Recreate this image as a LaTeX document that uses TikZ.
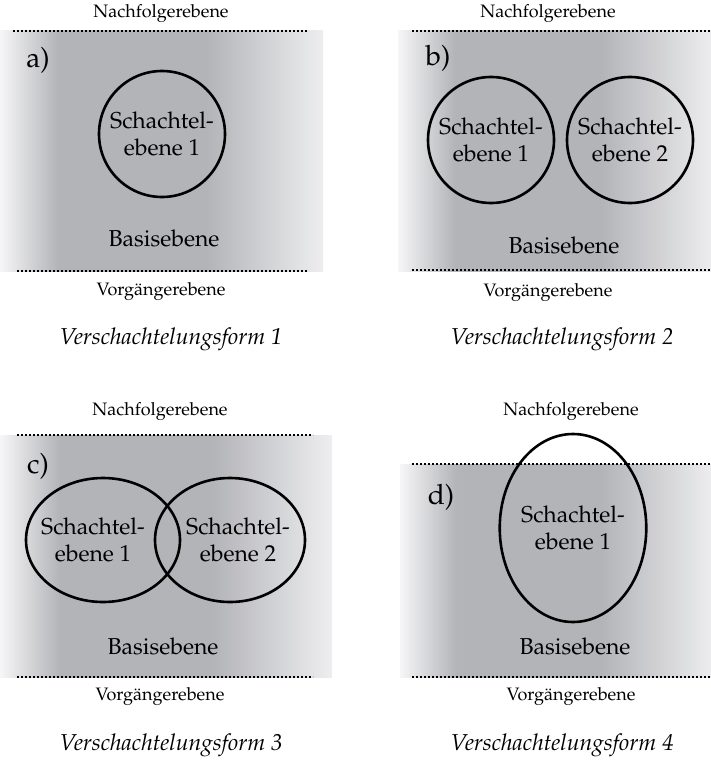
\documentclass[tikz,border=0pt]{standalone}
\usepackage[T1]{fontenc}
\usepackage{mathpazo}
\usetikzlibrary{shapes.geometric}

\definecolor{midgray}{RGB}{179,180,184}
\definecolor{fadeL}{RGB}{246,246,247}
\definecolor{fadeR}{RGB}{238,238,240}
% TikZ fits the band 25bp--75bp of a shading onto the filled path
\pgfdeclarehorizontalshading{panelfade}{100bp}{%
  color(0bp)=(fadeL); color(25bp)=(fadeL); color(34bp)=(midgray);
  color(57bp)=(midgray); color(75bp)=(fadeR); color(100bp)=(fadeR)}

\tikzset{
  panel/.style={shading=panelfade, draw=none},
  levelline/.style={line width=2pt, dash pattern=on 2pt off 2pt},
  nest/.style={draw, line width=2.6pt, inner sep=0pt, align=center,
    font=\fontsize{23}{27}\selectfont},
  nesttext/.style={align=center, inner sep=0pt, font=\fontsize{23}{27}\selectfont},
  small/.style={font=\fontsize{18}{20}\selectfont},
  base/.style={font=\fontsize{23}{27}\selectfont},
  tag/.style={font=\fontsize{28}{30}\selectfont},
  caption/.style={font=\fontsize{23}{27}\selectfont\itshape},
}

\begin{document}
\begin{tikzpicture}[x=1pt,y=-1pt]
\useasboundingbox (0,0) rectangle (710,762);

% ---- a) one nesting level inside the base level
\shade[panel] (0,31) rectangle (323,271);
\coordinate (a1) at (13,31);  \coordinate (a2) at (308,31);
\coordinate (a3) at (17,271); \coordinate (a4) at (308,271);
\draw[levelline] (a1) -- (a2);
\draw[levelline] (a3) -- (a4);
\node[small] (aN) at (161,14) {Nachfolgerebene};
\node[small] (aV) at (161,292) {Vorg\"angerebene};
\node[tag] (aT) at (38,60) {a)};
\node[nest, circle, minimum size=126pt] (aS) at (162,134) {Schachtel-\\ebene 1};
\node[base] (aB) at (164,238) {Basisebene};
\node[caption] (aC) at (171,339) {Verschachtelungsform 1};

% ---- b) two separate nesting levels
\shade[panel] (398,31) rectangle (714,271);
\coordinate (b1) at (412,31);  \coordinate (b2) at (710,31);
\coordinate (b3) at (412,270); \coordinate (b4) at (710,270);
\draw[levelline] (b1) -- (b2);
\draw[levelline] (b3) -- (b4);
\node[small] (bN) at (548,14) {Nachfolgerebene};
\node[small] (bV) at (548,293) {Vorg\"angerebene};
\node[tag] (bT) at (438,58) {b)};
\node[nest, circle, minimum size=126pt] (bS1) at (491,140) {Schachtel-\\ebene 1};
\node[nest, circle, minimum size=126pt] (bS2) at (630,140) {Schachtel-\\ebene 2};
\node[base] (bB) at (564,245) {Basisebene};
\node[caption] (bC) at (562,339) {Verschachtelungsform 2};

% ---- c) two overlapping nesting levels
\shade[panel] (0,435) rectangle (332,677);
\coordinate (c1) at (17,435);  \coordinate (c2) at (313,435);
\coordinate (c3) at (17,677);  \coordinate (c4) at (313,677);
\draw[levelline] (c1) -- (c2);
\draw[levelline] (c3) -- (c4);
\node[small] (cN) at (160,412) {Nachfolgerebene};
\node[small] (cV) at (160,697) {Vorg\"angerebene};
\node[tag] (cT) at (38,466) {c)};
\node[nest, ellipse, minimum width=154pt, minimum height=124pt] (cS1) at (103,540) {};
\node[nest, ellipse, minimum width=150pt, minimum height=124pt] (cS2) at (230,540) {};
\node[nesttext] (cT1) at (93,540) {Schachtel-\\ebene 1};
\node[nesttext] (cT2) at (238,540) {Schachtel-\\ebene 2};
\node[base] (cB) at (163,646) {Basisebene};
\node[caption] (cC) at (171,745) {Verschachtelungsform 3};

% ---- d) nesting level reaching into the successor level
\shade[panel] (400,464) rectangle (714,677);
\coordinate (d1) at (412,464); \coordinate (d2) at (710,464);
\coordinate (d3) at (412,677); \coordinate (d4) at (710,677);
\draw[levelline] (d1) -- (d2);
\draw[levelline] (d3) -- (d4);
\node[small] (dN) at (571,412) {Nachfolgerebene};
\node[small] (dV) at (571,697) {Vorg\"angerebene};
\node[tag] (dT) at (441,497) {d)};
\node[nest, ellipse, minimum width=134pt, minimum height=188pt] (dS) at (573,528) {Schachtel-\\ebene 1};
\node[base] (dB) at (575,646) {Basisebene};
\node[caption] (dC) at (562,745) {Verschachtelungsform 4};
\end{tikzpicture}
\end{document}
